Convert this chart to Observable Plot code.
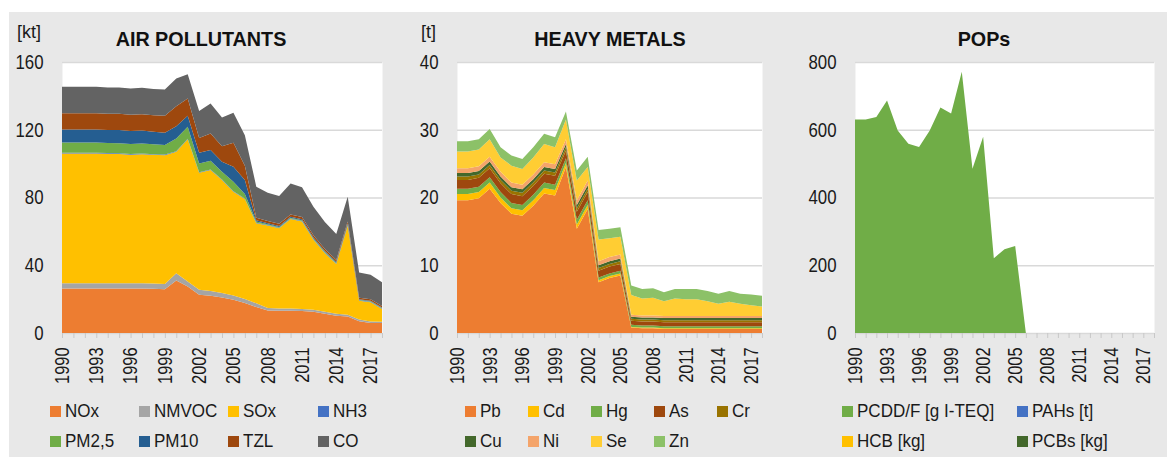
<!DOCTYPE html>
<html>
<head>
<meta charset="utf-8">
<script src="https://cdn.jsdelivr.net/npm/d3@7"></script>
<script src="https://cdn.jsdelivr.net/npm/@observablehq/plot@0.6"></script>
<style>
  html, body { margin: 0; padding: 0; }
  body { width: 1167px; height: 457px; overflow: hidden; position: relative; background: #fff;
         font-family: "Liberation Sans", Arial, sans-serif; }
  #bg { position: absolute; left: 9px; top: 12px; width: 1158px; height: 445px; background: #e8e8e8; }
  .title { position: absolute; font-weight: bold; font-size: 21px; line-height: 1; color: #111; transform: translateX(-50%) scaleX(0.94); white-space: nowrap; }
  .unit { position: absolute; font-size: 18px; line-height: 1; color: #1a1a1a; }
  .leg { position: absolute; font-size: 18.5px; line-height: 1; color: #1a1a1a; white-space: nowrap; display: flex; align-items: center; }
  .leg .tx { display: inline-block; transform: scaleX(0.92); transform-origin: left center; }
  .sw { width: 11px; height: 11px; display: inline-block; margin-right: 4px; }
  svg { position: absolute; top: 0; }
</style>
</head>
<body>
<div id="bg"></div>
<script>
// ---------- categories / tick labels ----------
const years = [1990,1991,1992,1993,1994,1995,1996,1997,1998,1999,2000,2001,2002,2003,2004,2005,2006,2007,2008,2009,2010,2011,2012,2013,2014,2015,2016,2017,2018];
const yearLabels = [1990,1993,1996,1999,2002,2005,2008,2011,2014,2017];

// ---------- AIR POLLUTANTS [kt] ----------
const airNames  = ["NOx","NMVOC","SOx","NH3","PM2,5","PM10","TZL","CO"];
const airColors = ["#ed7d31","#a5a5a5","#ffc000","#4472c4","#70ad47","#255e91","#9e480e","#636363"];
const airTicks  = [0,40,80,120,160];
const NOx   = [26.3,26.3,26.3,26.3,26.3,26.3,26.2,26.2,26.1,25.9,31.0,27.5,22.6,22.0,21.0,19.6,17.7,15.3,13.3,13.2,13.2,13.0,12.6,11.4,10.2,9.8,6.9,5.9,5.9];
const NMVOC = [3.1,3.1,3.1,3.1,3.1,3.1,3.1,3.1,3.1,3.1,4.3,2.9,2.9,2.8,2.6,2.5,2.4,2.2,1.4,1.2,1.2,1.2,1.2,1.2,1.1,1.0,1.0,0.9,0.8];
const SOx   = [76.6,76.6,76.6,76.6,76.4,76.3,76.0,76.3,76.0,76.0,71.7,84.0,69.1,71.4,66.7,61.3,59.0,47.3,48.7,47.4,52.9,51.6,41.2,34.5,29.5,52.4,11.1,11.3,7.4];
const NH3   = [0.4,0.4,0.4,0.4,0.4,0.4,0.4,0.4,0.4,0.4,0.3,0.3,0.3,0.3,0.3,0.3,0.3,0.3,0.3,0.3,0.3,0.3,0.3,0.3,0.3,0.3,0.3,0.3,0.3];
const PM25  = [6.0,6.0,6.0,6.0,6.0,6.0,5.9,5.9,5.8,5.6,7.5,7.0,5.2,5.2,4.6,5.6,2.7,0.7,0.5,0.5,0.5,0.5,0.5,0.5,0.4,0.5,0.3,0.3,0.3];
const PM10  = [7.8,7.8,7.8,7.8,7.7,7.7,7.6,7.6,7.4,7.3,7.3,6.5,6.3,6.3,5.9,8.9,8.2,0.8,0.6,0.6,0.6,0.6,0.6,0.5,0.5,0.6,0.4,0.4,0.4];
const TZL   = [9.5,9.5,9.5,9.5,9.5,9.6,9.7,9.7,9.8,10.0,11.8,10.2,8.8,9.8,9.2,14.1,8.4,1.5,1.3,1.3,1.3,1.3,1.3,1.2,1.1,1.3,0.8,0.8,0.8];
const CO    = [15.7,15.7,15.7,15.7,15.6,15.6,15.5,15.6,15.4,15.5,16.3,14.3,15.8,17.7,16.9,17.7,18.1,18.3,16.7,16.4,18.3,17.5,16.9,16.0,15.4,14.6,14.9,14.5,14.1];

// ---------- HEAVY METALS [t] ----------
const hmNames  = ["Pb","Cd","Hg","As","Cr","Cu","Ni","Se","Zn"];
const hmColors = ["#ed7d31","#ffc000","#70ad47","#9e480e","#997300","#43682b","#f4a46a","#ffcd33","#8cc168"];
const hmTicks  = [0,10,20,30,40];
const Pb = [19.6,19.6,19.9,21.3,19.2,17.6,17.3,18.8,20.6,20.3,24.5,15.4,18.3,7.5,8.1,8.5,0.8,0.7,0.7,0.6,0.6,0.6,0.6,0.6,0.6,0.6,0.6,0.6,0.6];
const Cd = [0.9,0.9,0.9,0.9,0.8,0.8,0.8,0.8,0.8,0.8,0.6,0.6,0.6,0.3,0.3,0.3,0.1,0.1,0.1,0.1,0.1,0.1,0.1,0.1,0.1,0.1,0.1,0.1,0.1];
const Hg = [0.8,0.8,0.8,0.8,0.8,0.8,0.8,0.8,0.8,0.8,0.7,0.7,0.7,0.4,0.4,0.4,0.3,0.3,0.3,0.3,0.3,0.3,0.3,0.3,0.3,0.3,0.3,0.3,0.3];
const As = [1.3,1.3,1.3,1.3,1.3,1.3,1.3,1.3,1.3,1.3,1.1,1.2,1.2,1.0,1.0,1.0,0.6,0.6,0.6,0.6,0.6,0.6,0.6,0.6,0.6,0.6,0.6,0.6,0.6];
const Cr = [0.5,0.5,0.5,0.5,0.5,0.5,0.5,0.5,0.5,0.5,0.5,0.5,0.5,0.4,0.4,0.4,0.3,0.3,0.3,0.3,0.3,0.3,0.3,0.3,0.3,0.3,0.3,0.3,0.3];
const Cu = [0.5,0.5,0.5,0.5,0.5,0.5,0.5,0.5,0.5,0.5,0.5,0.5,0.5,0.4,0.4,0.4,0.3,0.3,0.3,0.3,0.3,0.3,0.3,0.3,0.3,0.3,0.3,0.3,0.3];
const Ni = [0.7,0.7,0.7,0.7,0.7,0.7,0.7,0.7,0.7,0.7,0.7,0.7,0.7,0.6,0.6,0.6,0.3,0.3,0.3,0.3,0.3,0.3,0.3,0.3,0.3,0.3,0.3,0.3,0.3];
const Se = [2.5,2.5,2.5,2.6,2.1,2.5,2.3,2.5,2.7,2.5,2.9,2.9,2.0,3.2,2.8,2.6,2.9,2.5,2.6,2.2,2.6,2.5,2.5,2.2,1.8,2.1,1.8,1.6,1.4];
const Zn = [1.5,1.5,1.5,1.5,1.5,1.5,1.5,1.5,1.5,1.5,1.2,1.5,1.5,1.4,1.4,1.4,1.4,1.4,1.4,1.3,1.4,1.5,1.5,1.5,1.5,1.6,1.5,1.6,1.6];

// ---------- POPs ----------
const popNames  = ["PCDD/F [g I-TEQ]","PAHs [t]","HCB [kg]","PCBs [kg]"];
const popColors = ["#70ad47","#4472c4","#ffc000","#43682b"];
const popTicks  = [0,200,400,600,800];
const PCDDF = [630,630,638,686,598,559,549,598,666,648,771,485,579,221,247,257,0,0,0,0,0,0,0,0,0,0,0,0,0];
const PAHs  = [0,0,0,0,0,0,0,0,0,0,0,0,0,0,0,0,0,0,0,0,0,0,0,0,0,0,0,0,0];
const HCB   = [0,0,0,0,0,0,0,0,0,0,0,0,0,0,0,0,0,0,0,0,0,0,0,0,0,0,0,0,0];
const PCBs  = [0,0,0,0,0,0,0,0,0,0,0,0,0,0,0,0,0,0,0,0,0,0,0,0,0,0,0,0,0];

// ---------- build ----------
const FONT = '"Liberation Sans", Arial, sans-serif';
function toLong(names, arrays) {
  const out = [];
  names.forEach((n, i) => arrays[i].forEach((v, j) => out.push({series: n, year: years[j], value: v})));
  return out;
}

function condense(svg, selector, factor) {
  svg.querySelectorAll(selector).forEach(t => {
    const len = t.getComputedTextLength();
    if (len > 0) {
      t.setAttribute("textLength", (len * factor).toFixed(2));
      t.setAttribute("lengthAdjust", "spacingAndGlyphs");
    }
  });
}

function panel(cfg) {
  const {left, width, plotLeft, plotRight, domain, ticks, names, colors, data} = cfg;
  const svg = Plot.plot({
    width, height: 400,
    marginLeft: plotLeft - left, marginRight: left + width - plotRight,
    marginTop: 62, marginBottom: 67,
    style: {background: "transparent", fontFamily: FONT, fontSize: "20px", color: "#1a1a1a", overflow: "visible"},
    x: {domain: [1990, 2018], label: null},
    y: {domain, label: null},
    color: {domain: names, range: colors},
    marks: [
      Plot.frame({fill: "white", stroke: "none"}),
      Plot.gridY({ticks, stroke: "#d9d9d9", strokeOpacity: 1, strokeWidth: 1.5}),
      Plot.areaY(data, {x: "year", y: "value", z: "series", fill: "series"}),
      Plot.axisX({ticks: years, tickSize: 5, tickFormat: () => "", stroke: "#c8c8c8", strokeOpacity: 1, label: null}),
      Plot.axisX({ticks: yearLabels, tickSize: 0, tickPadding: 14, tickRotate: -90, tickFormat: d => String(d), label: null}),
      Plot.axisY({ticks, tickSize: 0, tickPadding: 19, tickFormat: d => String(d), label: null})
    ]
  });
  svg.style.left = left + "px";
  document.body.appendChild(svg);
  condense(svg, 'g[aria-label="x-axis tick label"] text', 0.82);
  condense(svg, 'g[aria-label="y-axis tick label"] text', 0.84);
}

panel({left: 0, width: 393, plotLeft: 62, plotRight: 382, domain: [0, 160], ticks: airTicks,
       names: airNames, colors: airColors,
       data: toLong(airNames, [NOx, NMVOC, SOx, NH3, PM25, PM10, TZL, CO])});
panel({left: 393, width: 390, plotLeft: 457, plotRight: 762, domain: [0, 40], ticks: hmTicks,
       names: hmNames, colors: hmColors,
       data: toLong(hmNames, [Pb, Cd, Hg, As, Cr, Cu, Ni, Se, Zn])});
panel({left: 783, width: 384, plotLeft: 855, plotRight: 1154, domain: [0, 800], ticks: popTicks,
       names: popNames, colors: popColors,
       data: toLong(popNames, [PCDDF, PAHs, HCB, PCBs])});

// titles and units
function addDiv(cls, text, x, y) {
  const d = document.createElement("div");
  d.className = cls; d.textContent = text;
  d.style.left = x + "px"; d.style.top = y + "px";
  document.body.appendChild(d);
  return d;
}
addDiv("title", "AIR POLLUTANTS", 201, 28);
addDiv("title", "HEAVY METALS", 610, 28);
addDiv("title", "POPs", 984, 28);
addDiv("unit", "[kt]", 17, 23);
addDiv("unit", "[t]", 421, 23);

// legends
function legend(names, colors, cols, rowYs) {
  names.forEach((n, i) => {
    const c = i % cols.length, r = Math.floor(i / cols.length);
    const d = document.createElement("div");
    d.className = "leg";
    d.style.left = cols[c] + "px";
    d.style.top = (rowYs[r] - 10) + "px";
    d.style.height = "20px";
    const s = document.createElement("span");
    s.className = "sw"; s.style.background = colors[i];
    const t = document.createElement("span");
    t.className = "tx"; t.textContent = n;
    d.appendChild(s);
    d.appendChild(t);
    document.body.appendChild(d);
  });
}
legend(airNames, airColors, [50, 139, 228, 318], [411.5, 441.5]);
legend(hmNames, hmColors, [465, 528, 591, 654, 717], [411.5, 441.5]);
legend(popNames, popColors, [842, 1017], [411.5, 441.5]);
</script>
</body>
</html>
